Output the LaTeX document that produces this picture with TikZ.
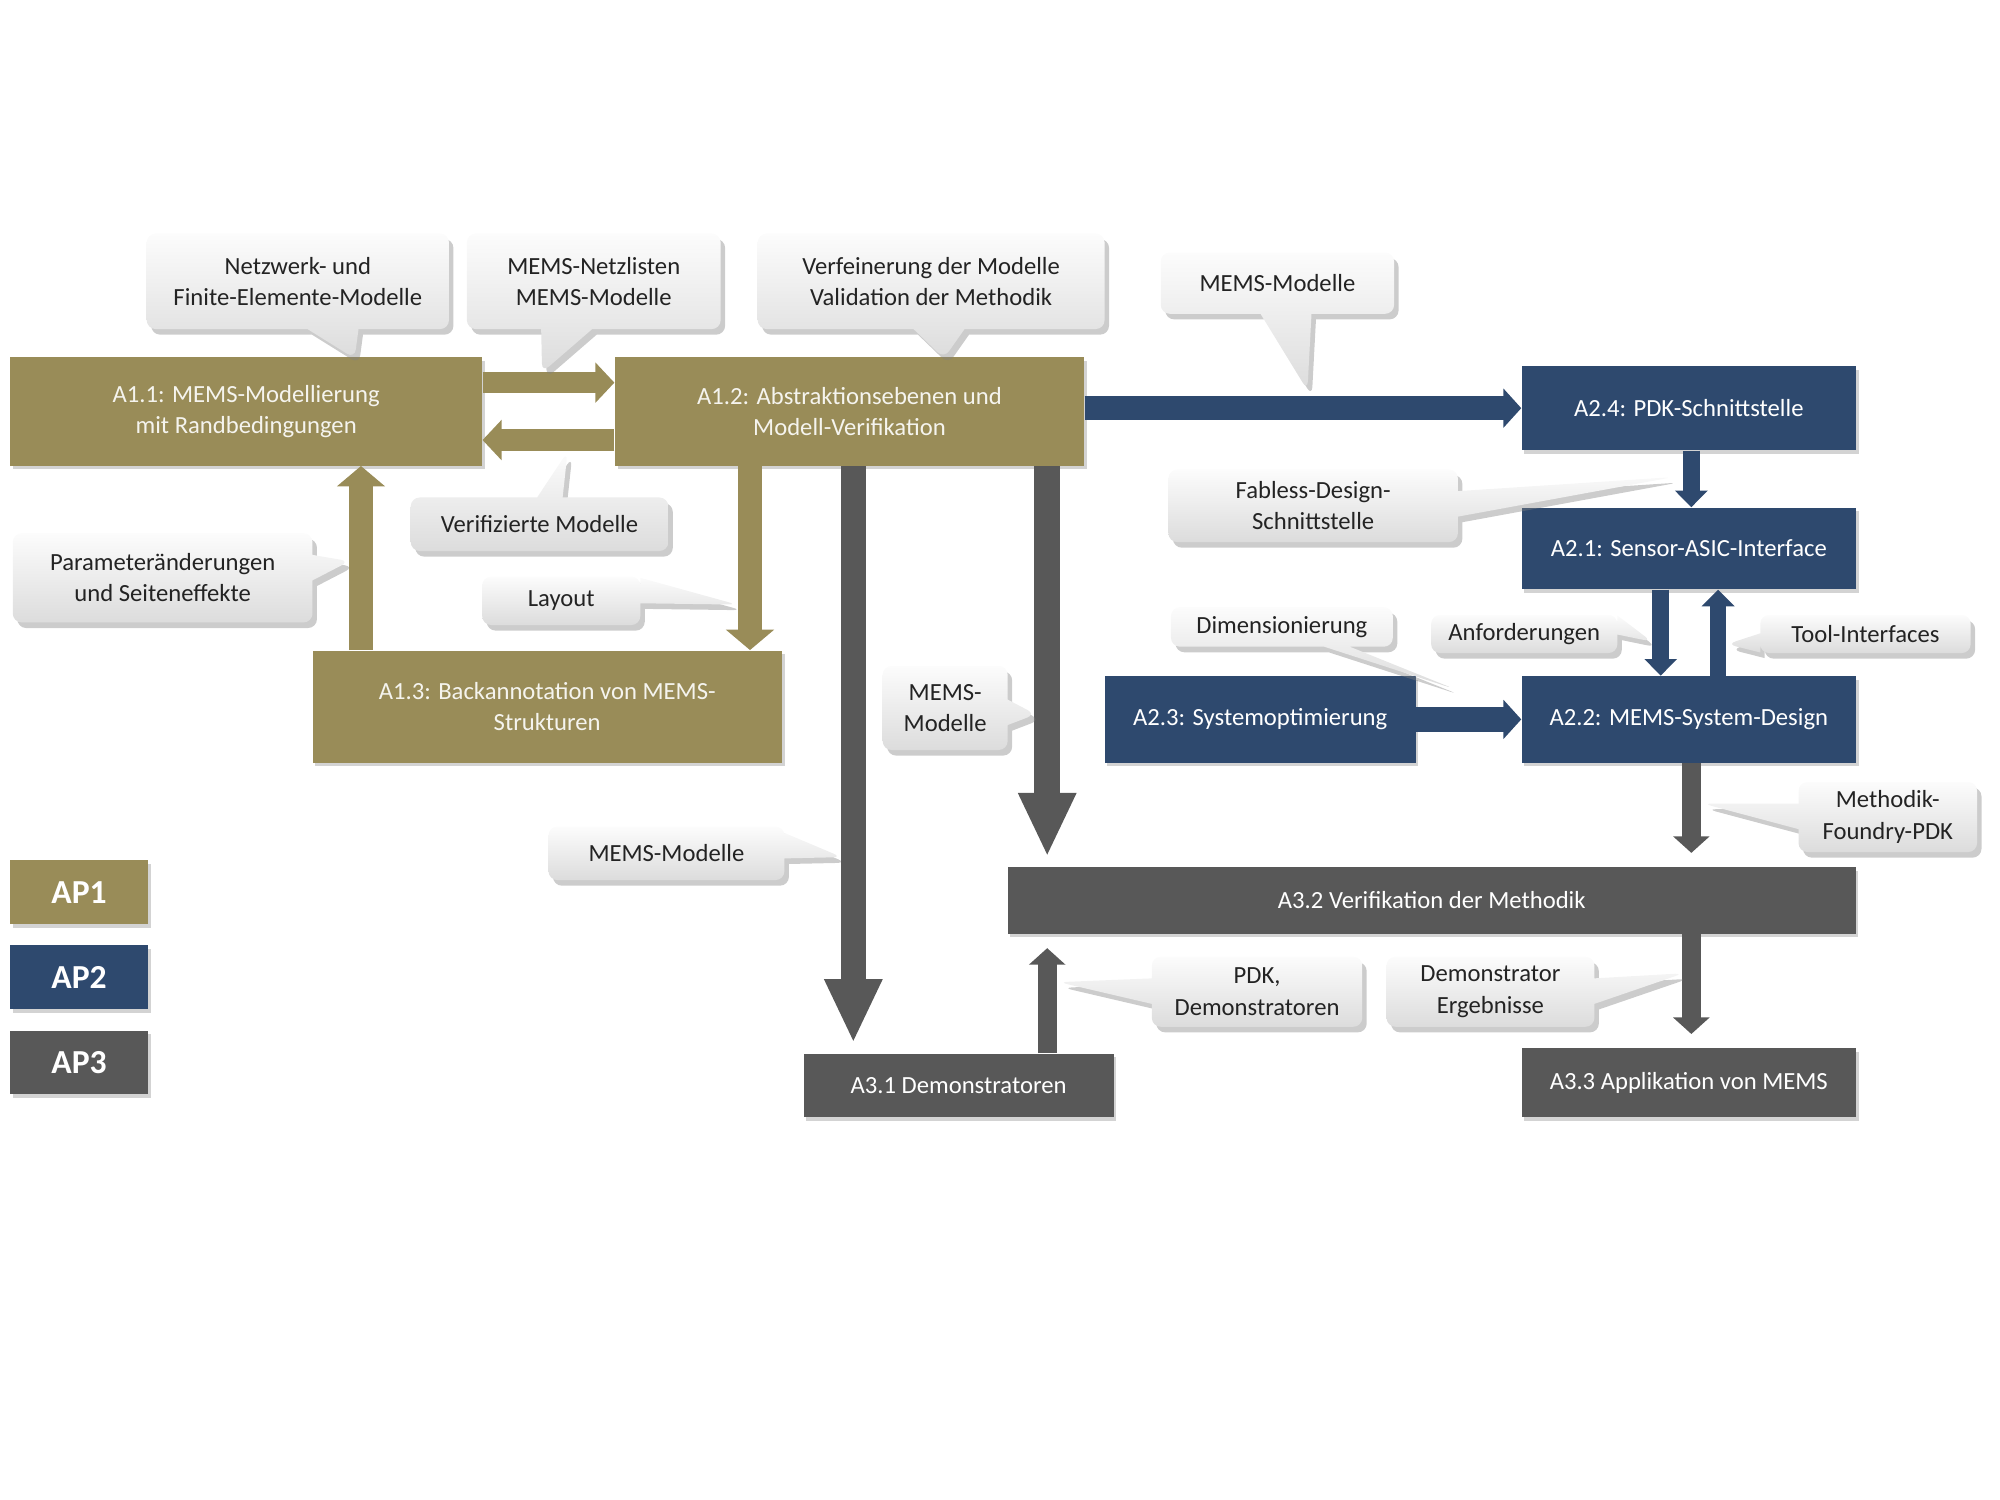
\documentclass[tikz,border=0pt]{standalone}
\usepackage{fontspec}
\setmainfont{Carlito}
\usetikzlibrary{arrows.meta,shapes.callouts,shadows}
\definecolor{olv}{RGB}{153,140,88}
\definecolor{blu}{RGB}{46,73,110}
\definecolor{gry}{RGB}{88,88,88}
\definecolor{ctxt}{RGB}{35,35,35}
\definecolor{ntop}{RGB}{252,252,252}
\definecolor{nbot}{RGB}{220,220,220}
\begin{document}
\begin{tikzpicture}[x=0.02cm,y=-0.02cm,
  box/.style={rectangle,inner sep=2pt,align=center,text=white,
    font=\fontsize{11}{14}\selectfont,
    drop shadow={shadow xshift=1.2pt,shadow yshift=-1.6pt,opacity=0.35}},
  olbox/.style={box,fill=olv,text=white!90!olv},
  blbox/.style={box,fill=blu},
  grbox/.style={box,fill=gry},
  legbox/.style={box,font=\fontsize{15}{18}\selectfont\bfseries,minimum width=2.16cm,minimum height=1cm},
  note/.style={rectangle callout,rounded corners=4pt,top color=ntop,bottom color=nbot,
    align=center,text=ctxt,font=\fontsize{11}{14}\selectfont,inner sep=2pt,
    callout pointer width=0.4cm,
    drop shadow={shadow xshift=2pt,shadow yshift=-2.5pt,opacity=0.4}},
  wide/.style={callout pointer width=0.8cm},
  olarr/.style={draw=olv,line width=0.34cm,-{Triangle[width=0.62cm,length=0.3cm]}},
  olarrv/.style={draw=olv,line width=0.38cm,-{Triangle[width=0.74cm,length=0.32cm]}},
  blarr/.style={draw=blu,line width=0.38cm,-{Triangle[width=0.6cm,length=0.28cm]}},
  blarrs/.style={draw=blu,line width=0.26cm,-{Triangle[width=0.5cm,length=0.26cm]}},
  grbig/.style={draw=gry,line width=0.4cm,-{Triangle[width=0.84cm,length=1cm]},shorten >=0.16cm},
  grsmall/.style={draw=gry,line width=0.3cm,-{Triangle[width=0.56cm,length=0.26cm]},shorten >=0.22cm},
]
\useasboundingbox (0,0) rectangle (1568,1176);

% boxes
\node[olbox,minimum width=7.4cm,minimum height=1.7cm] (a11) at (193,322.5) {A1.1: MEMS-Modellierung\\mit Randbedingungen};
\node[olbox,minimum width=7.36cm,minimum height=1.7cm] (a12) at (666,322.5) {A1.2: Abstraktionsebenen und\\Modell-Verifikation};
\node[olbox,minimum width=7.36cm,minimum height=1.76cm] (a13) at (429,554) {A1.3: Backannotation von MEMS-\\Strukturen};
\node[blbox,minimum width=5.24cm,minimum height=1.32cm] (a24) at (1324,320) {A2.4: PDK-Schnittstelle};
\node[blbox,minimum width=5.24cm,minimum height=1.28cm] (a21) at (1324,430) {A2.1: Sensor-ASIC-Interface};
\node[blbox,minimum width=4.88cm,minimum height=1.36cm] (a23) at (988,564) {A2.3: Systemoptimierung};
\node[blbox,minimum width=5.24cm,minimum height=1.36cm] (a22) at (1324,564) {A2.2: MEMS-System-Design};
\node[grbox,minimum width=13.3cm,minimum height=1.04cm] (a32) at (1122.5,706) {A3.2 Verifikation der Methodik};
\node[grbox,minimum width=4.86cm,minimum height=1cm] (a31) at (751.5,851) {A3.1 Demonstratoren};
\node[grbox,minimum width=5.24cm,minimum height=1.08cm] (a33) at (1324,849) {A3.3 Applikation von MEMS};
\node[legbox,fill=olv] (ap1) at (62,699.5) {AP1};
\node[legbox,fill=blu] (ap2) at (62,766) {AP2};
\node[legbox,fill=gry] (ap3) at (62,833) {AP3};

% helper coordinates
\coordinate (x283) at (283,0);
\coordinate (x588) at (588,0);
\coordinate (x669) at (669,0);
\coordinate (x821) at (821,0);
\coordinate (x1302) at (1302,0);
\coordinate (x1326) at (1326,0);
\coordinate (x1347) at (1347,0);
\coordinate (y300) at (0,300);
\coordinate (y345) at (0,345);

% arrows
\draw[olarr] (a11.east |- y300) -- (a12.west |- y300);
\draw[olarr] (a12.west |- y345) -- (a11.east |- y345);
\draw[blarr] (a12.east |- a24.west) -- (a24.west);
\draw[olarrv] (a13.north -| x283) -- (a11.south -| x283);
\draw[olarrv] (a12.south -| x588) -- (a13.north -| x588);
\draw[grbig] (a12.south -| x669) -- (a31.north -| x669);
\draw[grbig] (a12.south -| x821) -- (a32.north -| x821);
\draw[blarrs] (a24.south -| x1326) -- (a21.north -| x1326);
\draw[blarrs] (a21.south -| x1302) -- (a22.north -| x1302);
\draw[blarrs] (a22.north -| x1347) -- (a21.south -| x1347);
\draw[blarr] (a23.east) -- (a22.west);
\draw[grsmall] (a22.south -| x1326) -- (a32.north -| x1326);
\draw[grsmall] (a31.north -| x821) -- (a32.south -| x821);
\draw[grsmall] (a32.south -| x1326) -- (a33.north -| x1326);

% callout pointer tips
\coordinate (q1) at (278,281);
\coordinate (q2) at (425,292);
\coordinate (q3) at (740,281);
\coordinate (q4) at (1025,306);
\coordinate (q5) at (445,354);
\coordinate (q6) at (274,440);
\coordinate (q7) at (578,474);
\coordinate (q8) at (1312,374);
\coordinate (q9) at (1140,540);
\coordinate (q10) at (1295,503);
\coordinate (q11) at (1354,505);
\coordinate (q12) at (812,560);
\coordinate (q13) at (1335,630);
\coordinate (q14) at (660,672);
\coordinate (q15) at (830,770);
\coordinate (q16) at (1320,763);

% callouts
\node[note,wide,minimum width=4.74cm,minimum height=1.5cm,callout absolute pointer={(q1)}] (n1) at (233.5,220.5) {Netzwerk- und\\Finite-Elemente-Modelle};
\node[note,wide,minimum width=3.98cm,minimum height=1.5cm,callout absolute pointer={(q2)}] (n2) at (465.5,220.5) {MEMS-Netzlisten\\MEMS-Modelle};
\node[note,wide,minimum width=5.44cm,minimum height=1.5cm,callout absolute pointer={(q3)}] (n3) at (730,220.5) {Verfeinerung der Modelle\\Validation der Methodik};
\node[note,wide,minimum width=3.66cm,minimum height=0.96cm,callout absolute pointer={(q4)}] (n4) at (1001.5,222) {MEMS-Modelle};
\node[note,minimum width=4.04cm,minimum height=0.84cm,callout absolute pointer={(q5)}] (n5) at (423,411) {Verifizierte Modelle};
\node[note,minimum width=4.7cm,minimum height=1.4cm,callout absolute pointer={(q6)}] (n6) at (127.5,453) {Parameteränderungen\\und Seiteneffekte};
\node[note,minimum width=2.48cm,minimum height=0.76cm,callout absolute pointer={(q7)}] (n7) at (440,471) {Layout};
\node[note,minimum width=4.54cm,minimum height=1.14cm,callout absolute pointer={(q8)}] (n8) at (1029.5,396.5) {Fabless-Design-\\Schnittstelle};
\node[note,minimum width=3.48cm,minimum height=0.62cm,callout absolute pointer={(q9)}] (n9) at (1005,491.5) {Dimensionierung};
\node[note,minimum width=2.92cm,minimum height=0.6cm,callout pointer width=0.3cm,callout absolute pointer={(q10)}] (n10) at (1195,497) {Anforderungen};
\node[note,minimum width=3.3cm,minimum height=0.6cm,callout pointer width=0.3cm,callout absolute pointer={(q11)}] (n11) at (1462.5,497) {Tool-Interfaces};
\node[note,minimum width=1.96cm,minimum height=1.32cm,callout absolute pointer={(q12)}] (n12) at (741,555) {MEMS-\\Modelle};
\node[note,minimum width=2.8cm,minimum height=1.1cm,callout absolute pointer={(q13)}] (n13) at (1480,640.5) {Methodik-\\Foundry-PDK};
\node[note,minimum width=3.7cm,minimum height=0.84cm,callout absolute pointer={(q14)}] (n14) at (522.5,669) {MEMS-Modelle};
\node[note,minimum width=3.3cm,minimum height=1.1cm,callout absolute pointer={(q15)}] (n15) at (985.5,777.5) {PDK,\\Demonstratoren};
\node[note,minimum width=3.26cm,minimum height=1.1cm,callout absolute pointer={(q16)}] (n16) at (1168.5,777.5) {Demonstrator\\Ergebnisse};
\end{tikzpicture}
\end{document}
